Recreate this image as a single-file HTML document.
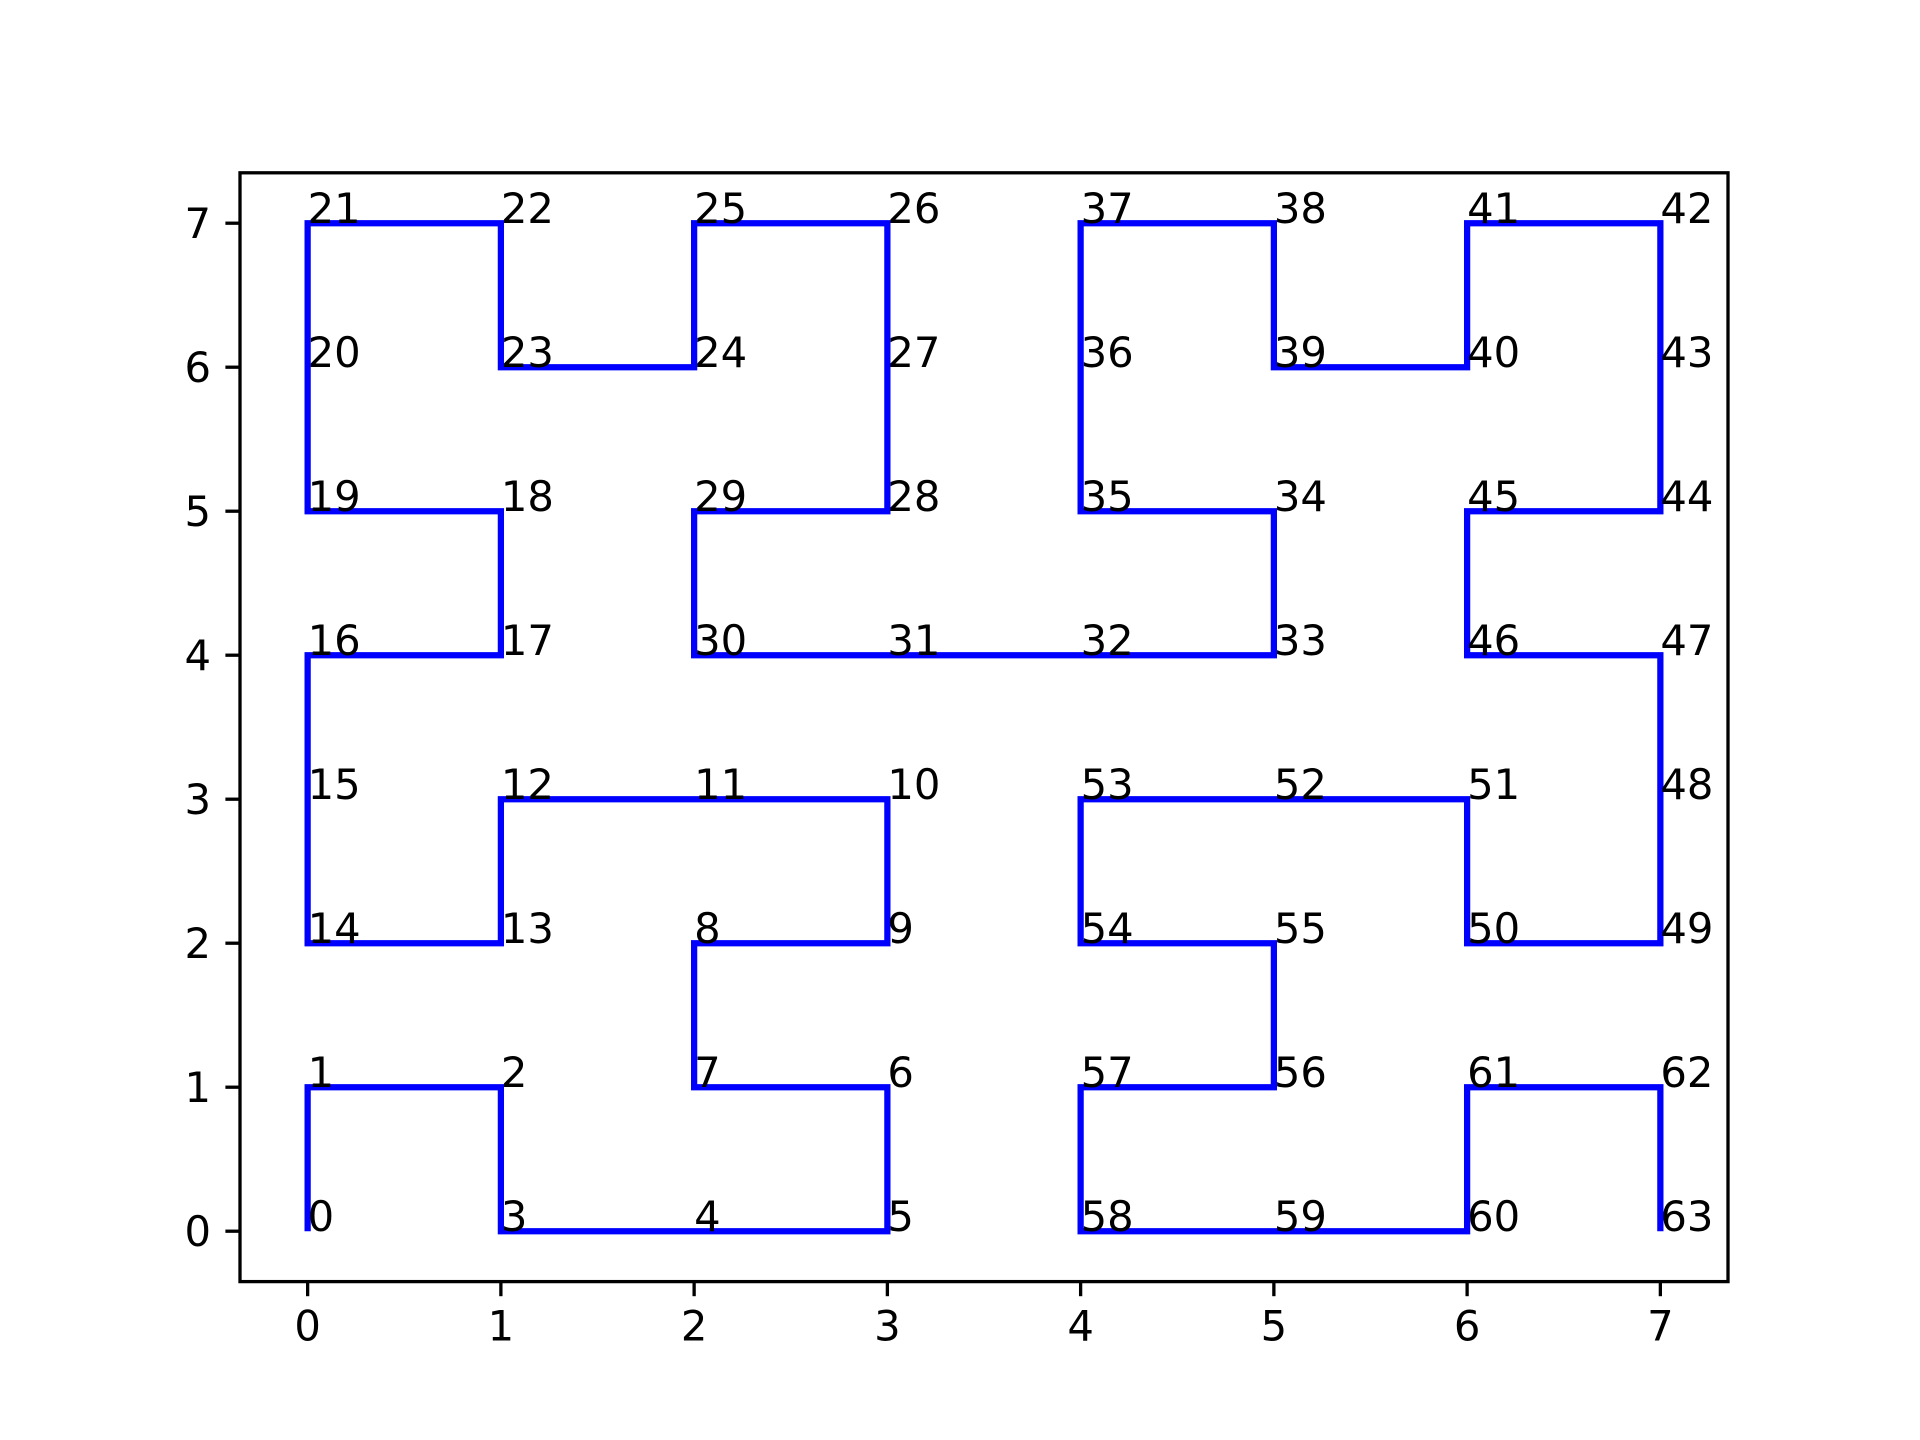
<!DOCTYPE html>
<html><head><meta charset="utf-8"><style>
html,body{margin:0;padding:0;background:#fff;}
svg{display:block;}
text{font-family:"DejaVu Sans","Liberation Sans",sans-serif;font-size:41.7px;fill:#000;}
</style></head><body>
<svg id="chart" width="1920" height="1440" viewBox="0 0 1920 1440" xmlns="http://www.w3.org/2000/svg">
<rect width="1920" height="1440" fill="#fff"/>
<g id="plot"></g>
</svg>
<script>
const xs = [0,0,1,1,2,3,3,2,2,3,3,2,1,1,0,0,0,1,1,0,0,0,1,1,2,2,3,3,3,2,2,3,4,5,5,4,4,4,5,5,6,6,7,7,7,6,6,7,7,7,6,6,5,4,4,5,5,4,4,5,6,6,7,7];
const ys = [0,1,1,0,0,0,1,1,2,2,3,3,3,2,2,3,4,4,5,5,6,7,7,6,6,7,7,6,5,5,4,4,4,4,5,5,6,7,7,6,6,7,7,6,5,5,4,4,3,2,2,3,3,3,2,2,1,1,0,0,0,1,1,0];
const xTicks = [0,1,2,3,4,5,6,7];
const yTicks = [0,1,2,3,4,5,6,7];
const NS = "http://www.w3.org/2000/svg";
const L=240,R=1728,T=172.8,B=1281.6,mn=-0.35,mx=7.35;
const sx=v=>L+(v-mn)/(mx-mn)*(R-L);
const sy=v=>B-(v-mn)/(mx-mn)*(B-T);
const g=document.getElementById('plot');
function mk(tag,attrs){const e=document.createElementNS(NS,tag);for(const k in attrs)e.setAttribute(k,attrs[k]);g.appendChild(e);return e;}
const line=mk('polyline',{points:xs.map((x,i)=>sx(x)+','+sy(ys[i])).join(' '),fill:'none',stroke:'#0000ff','stroke-width':6.25,'stroke-linejoin':'miter'});


xs.forEach((x,i)=>{
  const t=mk('text',{x:sx(x),y:sy(ys[i])});
  t.textContent=String(i);
  
  
});
const frame=mk('rect',{x:L,y:T,width:R-L,height:B-T,fill:'none',stroke:'#000','stroke-width':3.3});


xTicks.forEach(v=>{
  const tk=mk('line',{x1:sx(v),x2:sx(v),y1:B,y2:B+14.6,stroke:'#000','stroke-width':3.3});
  
  
  const t=mk('text',{x:sx(v),y:B+29+30,'text-anchor':'middle'});
  t.textContent=String(v);
  
  
});
yTicks.forEach(v=>{
  const tk=mk('line',{x1:L-14.6,x2:L,y1:sy(v),y2:sy(v),stroke:'#000','stroke-width':3.3});
  
  
  const t=mk('text',{x:L-29,y:sy(v)+15,'text-anchor':'end'});
  t.textContent=String(v);
  
  
});
</script>
</body></html>
